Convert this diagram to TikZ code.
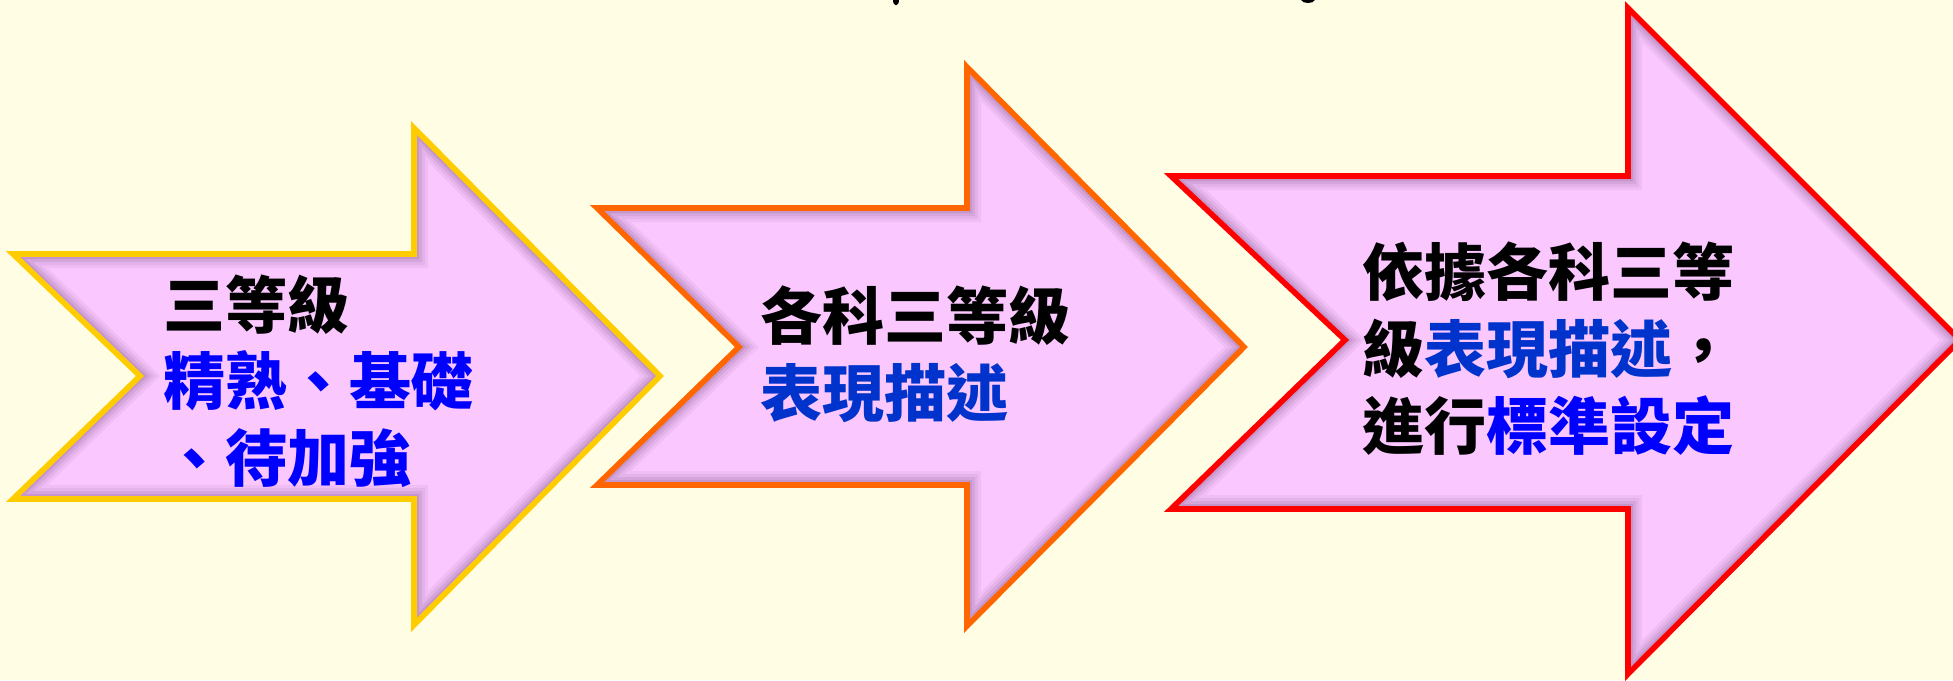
\documentclass[tikz,border=0pt]{standalone}
\usepackage{fontspec}
\newfontfamily\cjk{Noto Sans CJK TC}
\definecolor{bgc}{RGB}{255,253,228}
\definecolor{fillc}{RGB}{250,200,255}
\definecolor{shc}{RGB}{110,70,120}
\definecolor{yel}{RGB}{255,204,0}
\definecolor{ora}{RGB}{255,102,0}
\definecolor{redc}{RGB}{255,0,0}
\definecolor{blueA}{RGB}{0,0,255}
\definecolor{blueB}{RGB}{0,51,204}
\newcommand\arrpath[9]{(#1,#6) -- (#3,#6) -- (#3,#5) -- (#4,#7) -- (#3,#9) -- (#3,#8) -- (#1,#8) -- (#2,#7) -- cycle}
\newcommand\shapearrow[3]{%
  \begin{scope}
    \clip #2;
    \fill[fillc] #2;
    \draw[shc, line width=14pt, opacity=0.07] #2;
    \draw[shc, line width=11pt, opacity=0.09] #2;
    \draw[shc, line width=8pt, opacity=0.12] #2;
    \draw[shc, line width=5pt, opacity=0.15] #2;
  \end{scope}
  \draw[#1, line width=2.8pt, line join=miter] #2;
}
\tikzset{
  txt/.style={anchor=base west, inner sep=0pt, font=\cjk\bfseries\fontsize{31pt}{38pt}\selectfont}
}
\begin{document}
\begin{tikzpicture}[x=0.5pt, y=-0.5pt]
\useasboundingbox (0,0) rectangle (1953,680);
\fill[bgc] (0,0) rectangle (1953,680);
\clip (0,0) rectangle (1953,680);
% cut-off title fragments
\fill[black] (893,0) .. controls (893,7) and (899,7) .. (899,0) -- cycle;
\fill[black] (1301,0) .. controls (1303,4) and (1313,4) .. (1315,0) -- cycle;
% arrows
\shapearrow{yel}{\arrpath{13}{140}{414}{660}{128}{254}{376}{499}{625}}{}
\shapearrow{ora}{\arrpath{597}{739}{967}{1244}{67}{208}{347}{485}{626}}{}
\shapearrow{redc}{\arrpath{1171}{1345}{1628}{1960}{8}{176}{340}{509}{674}}{}
% texts
\node[txt] (a1) at (163,328) {三等級};
\node[txt, text=blueA] (a2) at (163,404) {精熟、基礎};
\node[txt, text=blueA] (a3) at (163,481) {、待加強};
\node[txt] (b1) at (760,339) {各科三等級};
\node[txt, text=blueB] (b2) at (760,416) {表現描述};
\node[txt] (c1) at (1362,295) {依據各科三等};
\node[txt] (c2) at (1362,372) {級\textcolor{blueB}{表現描述}，};
\node[txt] (c3) at (1362,449) {進行\textcolor{blueA}{標準設定}};
\end{tikzpicture}
\end{document}
